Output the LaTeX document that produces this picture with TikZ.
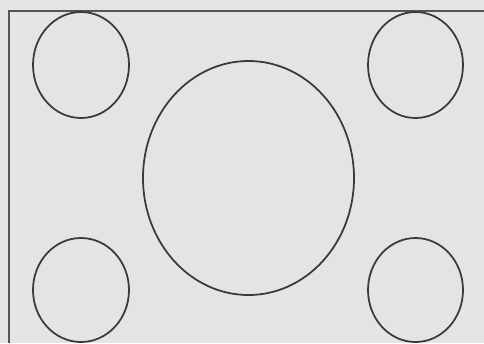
\documentclass[tikz,border=0pt]{standalone}
\usepackage{xcolor}
\usepackage{tikz}
\definecolor{paperbg}{HTML}{E4E4E4}
\definecolor{inkgray}{HTML}{3A3A3A}
\definecolor{framegray}{HTML}{555555}

\begin{document}
\begin{tikzpicture}[line width=1pt]
\useasboundingbox (0,0) rectangle (9.68,-6.86);
\fill[paperbg] (0,0) rectangle (9.68,-6.86);
\draw[framegray, line width=1.2pt] (0.18,-6.86) -- (0.18,-0.22) -- (9.68,-0.22);
\draw[inkgray] (1.62,-1.30) ellipse (0.96 and 1.06);
\draw[inkgray] (8.31,-1.30) ellipse (0.95 and 1.06);
\draw[inkgray] (4.97,-3.56) ellipse (2.11 and 2.34);
\draw[inkgray] (1.62,-5.80) ellipse (0.96 and 1.04);
\draw[inkgray] (8.31,-5.80) ellipse (0.95 and 1.04);
\end{tikzpicture}
\end{document}
